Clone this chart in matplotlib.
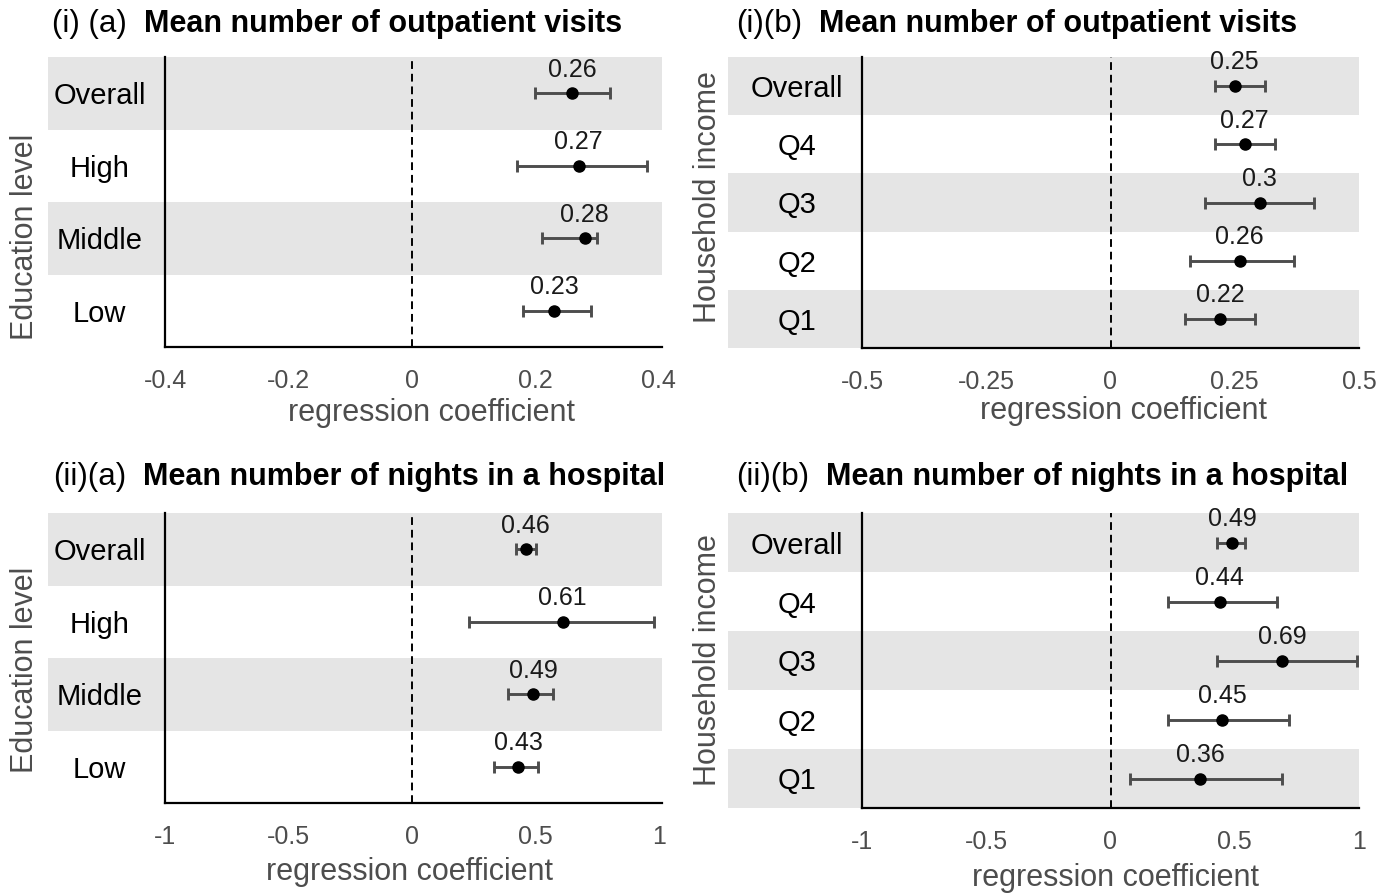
import matplotlib.pyplot as plt
import matplotlib.transforms as mtransforms
from matplotlib.patches import Rectangle

plt.rcParams['font.family'] = ['Liberation Sans', 'DejaVu Sans']

# ---------------------------------------------------------------------------
# Datos (coeficiente e intervalo de confianza)
# ---------------------------------------------------------------------------
edu_levels = ['Overall', 'High', 'Middle', 'Low']
inc_levels = ['Overall', 'Q4', 'Q3', 'Q2', 'Q1']

opv_edu_est = [0.26, 0.27, 0.28, 0.23]
opv_edu_lo = [0.20, 0.17, 0.21, 0.18]
opv_edu_hi = [0.32, 0.38, 0.30, 0.29]

opv_inc_est = [0.25, 0.27, 0.30, 0.26, 0.22]
opv_inc_lo = [0.21, 0.21, 0.19, 0.16, 0.15]
opv_inc_hi = [0.31, 0.33, 0.41, 0.37, 0.29]

night_edu_est = [0.46, 0.61, 0.49, 0.43]
night_edu_lo = [0.42, 0.23, 0.39, 0.33]
night_edu_hi = [0.50, 0.98, 0.57, 0.51]

night_inc_est = [0.49, 0.44, 0.69, 0.45, 0.36]
night_inc_lo = [0.43, 0.23, 0.43, 0.23, 0.08]
night_inc_hi = [0.54, 0.67, 0.99, 0.72, 0.69]

ticks_opv_edu = [-0.4, -0.2, 0, 0.2, 0.4]
ticks_opv_inc = [-0.5, -0.25, 0, 0.25, 0.5]
ticks_night = [-1, -0.5, 0, 0.5, 1]
labels_opv_edu = ['-0.4', '-0.2', '0', '0.2', '0.4']
labels_opv_inc = ['-0.5', '-0.25', '0', '0.25', '0.5']
labels_night = ['-1', '-0.5', '0', '0.5', '1']

W, H = 1398, 894
BAND = '#e5e5e5'
GRIS = '#4d4d4d'


def px_rect(left, right, top, bottom):
    return [left / W, 1 - bottom / H, (right - left) / W, (bottom - top) / H]


def dibujar_panel(ax, prefijo, titulo, filas, est, lo, hi, ticks, tick_labels,
                  xlim, ylabel, band_left, ylabel_xy, title_y, title_x, xlabel_xy):
    n = len(filas)
    ys = [n - 1 - i for i in range(n)]

    # bandas grises alternas (se extienden sobre las etiquetas)
    trans = mtransforms.blended_transform_factory(ax.transAxes, ax.transData)
    for i, y in enumerate(ys):
        if i % 2 == 0:
            ax.add_patch(Rectangle((band_left, y - 0.5), 1 - band_left, 1,
                                   transform=trans, color=BAND, lw=0,
                                   clip_on=False, zorder=0))

    ax.axvline(0, color='black', ls=(0, (4, 2.5)), lw=1.4, zorder=1)

    xerr = [[e - l for e, l in zip(est, lo)], [h - e for e, h in zip(est, hi)]]
    ax.errorbar(est, ys, xerr=xerr, fmt='none', ecolor=GRIS, elinewidth=2.1,
                capsize=4.5, capthick=2.1, zorder=2)
    ax.plot(est, ys, 'o', color='black', ms=8, zorder=3)
    for e, y in zip(est, ys):
        ax.annotate(f'{e:g}', xy=(e, y), xytext=(0, 17), textcoords='offset points',
                    ha='center', va='center', fontsize=18, color='#1a1a1a')

    ax.set_xlim(*xlim)
    ax.set_ylim(-0.5, n - 0.5)
    ax.set_xticks(ticks)
    ax.set_xticklabels(tick_labels, fontsize=18, color=GRIS)
    ax.set_yticks(ys)
    ax.set_yticklabels(filas, fontsize=21, color='black', ha='center')
    ax.tick_params(axis='y', length=0, pad=47)
    ax.tick_params(axis='x', length=0, pad=16)

    for s in ['top', 'right']:
        ax.spines[s].set_visible(False)
    for s in ['left', 'bottom']:
        ax.spines[s].set_linewidth(1.6)
        ax.spines[s].set_color('black')
    ax.set_facecolor('none')

    ax.set_xlabel('regression coefficient', fontsize=22, color=GRIS, va='center')
    ax.xaxis.set_label_coords(*xlabel_xy)
    ax.set_ylabel(ylabel, fontsize=22, color=GRIS, va='center')
    ax.yaxis.set_label_coords(*ylabel_xy)

    t = ax.text(title_x, title_y, prefijo, transform=ax.transAxes,
                fontsize=22.5, va='center', ha='left')
    ax.annotate(titulo, xy=(1, 0.5), xycoords=t, xytext=(12, 0),
                textcoords='offset points', va='center', ha='left',
                fontsize=22, fontweight='bold')


fig = plt.figure(figsize=(W / 100, H / 100), dpi=100)

ax1 = fig.add_axes(px_rect(165, 662, 57, 347))
dibujar_panel(ax1, '(i) (a)', 'Mean number of outpatient visits', edu_levels,
              opv_edu_est, opv_edu_lo, opv_edu_hi, ticks_opv_edu, labels_opv_edu,
              (-0.4, 0.405), 'Education level', -(165 - 48) / 497,
              (-(165 - 25) / 497, 0.38), 1 + (57 - 24) / 290, -(165 - 52) / 497,
              (0.537, -(413 - 347) / 290))

ax2 = fig.add_axes(px_rect(862, 1359, 57, 348))
dibujar_panel(ax2, '(i)(b)', 'Mean number of outpatient visits', inc_levels,
              opv_inc_est, opv_inc_lo, opv_inc_hi, ticks_opv_inc, labels_opv_inc,
              (-0.5, 0.5), 'Household income', -(862 - 728) / 497,
              (-(862 - 708) / 497, 0.52), 1 + (57 - 24) / 291, -(862 - 736) / 497,
              (0.527, -(411 - 348) / 291))

ax3 = fig.add_axes(px_rect(165, 662, 513, 803))
dibujar_panel(ax3, '(ii)(a)', 'Mean number of nights in a hospital', edu_levels,
              night_edu_est, night_edu_lo, night_edu_hi, ticks_night, labels_night,
              (-1, 1.012), 'Education level', -(165 - 48) / 497,
              (-(165 - 25) / 497, 0.46), 1 + (513 - 477) / 290, -(165 - 53) / 497,
              (0.492, -(872 - 803) / 290))

ax4 = fig.add_axes(px_rect(862, 1359, 513, 808))
dibujar_panel(ax4, '(ii)(b)', 'Mean number of nights in a hospital', inc_levels,
              night_inc_est, night_inc_lo, night_inc_hi, ticks_night, labels_night,
              (-1, 1), 'Household income', -(862 - 728) / 497,
              (-(862 - 708) / 497, 0.50), 1 + (513 - 477) / 295, -(862 - 736) / 497,
              (0.511, -(878 - 808) / 295))

fig.savefig('out.png', dpi=100)
